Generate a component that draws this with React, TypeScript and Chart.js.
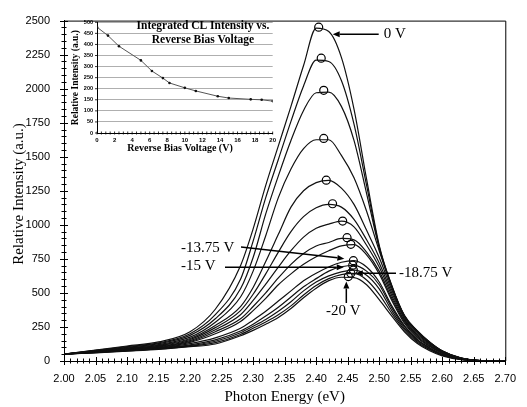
import React, { useEffect, useRef } from "react";
import { Chart, registerables } from "chart.js";

Chart.register(...registerables);

// ---------- Main chart data ----------
const energyGrid = [2.0, 2.05, 2.1, 2.15, 2.2, 2.24, 2.28, 2.3, 2.32, 2.34, 2.36, 2.38, 2.4, 2.42, 2.44, 2.46, 2.48, 2.5, 2.52, 2.54, 2.56, 2.58, 2.6, 2.63, 2.66, 2.7];

const curve01 = [50, 80, 110, 140, 215, 380, 700, 970, 1290, 1580, 1870, 2170, 2445, 2420, 2230, 1850, 1335, 850, 555, 335, 225, 140, 75, 22, 3, 0];
const curve02 = [50, 78, 105, 133, 200, 340, 600, 880, 1200, 1480, 1760, 2020, 2210, 2200, 2060, 1740, 1290, 840, 550, 332, 222, 138, 74, 22, 3, 0];
const curve03 = [50, 76, 100, 127, 188, 310, 530, 760, 1080, 1360, 1620, 1840, 1970, 1975, 1870, 1620, 1230, 830, 545, 330, 220, 137, 73, 21, 3, 0];
const curve04 = [50, 74, 96, 120, 175, 285, 470, 660, 920, 1200, 1410, 1560, 1625, 1625, 1510, 1345, 1100, 810, 540, 327, 217, 135, 72, 21, 3, 0];
const curve05 = [50, 72, 92, 115, 165, 260, 400, 540, 730, 930, 1130, 1250, 1310, 1327, 1270, 1150, 960, 760, 520, 318, 210, 130, 70, 20, 3, 0];
const curve06 = [50, 70, 90, 112, 158, 245, 370, 490, 640, 800, 950, 1060, 1125, 1150, 1130, 1040, 890, 720, 500, 308, 200, 125, 66, 19, 3, 0];
const curve07 = [50, 68, 87, 108, 150, 230, 340, 445, 565, 690, 810, 910, 975, 1005, 1027, 985, 850, 690, 480, 298, 190, 118, 62, 18, 3, 0];
const curve08 = [50, 67, 85, 104, 143, 215, 310, 400, 500, 610, 710, 790, 845, 870, 900, 890, 800, 660, 460, 288, 180, 112, 58, 17, 2, 0];
const curve09 = [50, 66, 83, 100, 137, 200, 290, 370, 460, 560, 640, 710, 765, 810, 845, 855, 780, 640, 445, 278, 172, 106, 55, 16, 2, 0];
const curve10 = [50, 65, 80, 96, 128, 170, 240, 300, 365, 440, 515, 590, 645, 690, 725, 737, 690, 580, 405, 260, 160, 98, 50, 14, 2, 0];
const curve11 = [50, 64, 78, 94, 118, 155, 220, 270, 330, 395, 470, 545, 605, 660, 692, 703, 660, 560, 390, 252, 155, 94, 48, 13, 2, 0];
const curve12 = [50, 63, 76, 91, 113, 145, 208, 255, 305, 365, 435, 515, 580, 625, 655, 667, 630, 530, 370, 240, 148, 88, 45, 12, 2, 0];
const curve13 = [50, 62, 74, 88, 109, 135, 195, 240, 287, 340, 405, 485, 555, 605, 635, 643, 595, 490, 350, 228, 140, 82, 42, 11, 2, 0];
const curve14 = [50, 60, 72, 85, 105, 125, 185, 225, 270, 320, 385, 465, 535, 590, 615, 612, 560, 450, 330, 215, 130, 75, 38, 10, 2, 0];

const curveLabels = ["0 V", "-1.25 V", "-2.5 V", "-3.75 V", "-5 V", "-6.25 V", "-7.5 V", "-8.75 V", "-10 V", "-13.75 V", "-15 V", "-16.25 V", "-18.75 V", "-20 V"];

const peakEnergy = [2.404, 2.408, 2.412, 2.412, 2.416, 2.426, 2.442, 2.449, 2.455, 2.459, 2.458, 2.459, 2.455, 2.451];
const peakIntensity = [2452, 2224, 1988, 1635, 1328, 1155, 1028, 906, 857, 737, 704, 668, 645, 620];

// ---------- Inset data ----------
const biasVoltage = [0, 1.25, 2.5, 5, 6.25, 7.5, 8.25, 10, 11.25, 13.75, 15, 17.5, 18.75, 20];
const integratedIntensity = [478, 440, 392, 328, 280, 248, 226, 204, 190, 166, 158, 152, 150, 144];

const SERIF = '"Liberation Serif", "Times New Roman", serif';
const SANS = '"Liberation Sans", Arial, sans-serif';

const curves = [curve01, curve02, curve03, curve04, curve05, curve06, curve07, curve08, curve09, curve10, curve11, curve12, curve13, curve14];

function drawArrow(ctx: CanvasRenderingContext2D, x1: number, y1: number, x2: number, y2: number, head = 7, half = 3) {
  const ang = Math.atan2(y2 - y1, x2 - x1);
  const bx = x2 - head * Math.cos(ang);
  const by = y2 - head * Math.sin(ang);
  ctx.beginPath();
  ctx.moveTo(x1, y1);
  ctx.lineTo(bx, by);
  ctx.stroke();
  ctx.beginPath();
  ctx.moveTo(x2, y2);
  ctx.lineTo(bx + half * Math.sin(ang), by - half * Math.cos(ang));
  ctx.lineTo(bx - half * Math.sin(ang), by + half * Math.cos(ang));
  ctx.closePath();
  ctx.fill();
}

const mainDecor = {
  id: "mainDecor",
  afterDraw(chart: any) {
    const { ctx, chartArea: a, scales } = chart;
    const x = scales.x;
    const y = scales.y;
    ctx.save();
    ctx.strokeStyle = "#000";
    ctx.fillStyle = "#000";
    ctx.lineWidth = 1;
    ctx.beginPath();
    ctx.moveTo(a.left, a.top + 0.5);
    ctx.lineTo(a.right + 0.5, a.top + 0.5);
    ctx.lineTo(a.right + 0.5, a.bottom);
    ctx.stroke();
    ctx.beginPath();
    for (let i = 0; i <= 70; i++) {
      const px = Math.round(x.getPixelForValue(2 + i * 0.01)) + 0.5;
      const len = i % 5 === 0 ? 4 : 2.5;
      ctx.moveTo(px, a.bottom - len);
      ctx.lineTo(px, a.bottom + len);
    }
    for (let v = 0; v <= 2500; v += 50) {
      const py = Math.round(y.getPixelForValue(v)) + 0.5;
      const len = v % 250 === 0 ? 4 : 2.5;
      ctx.moveTo(a.left - len, py);
      ctx.lineTo(a.left + len, py);
    }
    ctx.stroke();

    ctx.font = `15px ${SERIF}`;
    ctx.textAlign = "center";
    ctx.textBaseline = "middle";
    ctx.fillText("Photon Energy (eV)", (a.left + a.right) / 2, 397);
    ctx.save();
    ctx.translate(19, 194);
    ctx.rotate(-Math.PI / 2);
    ctx.fillText("Relative Intensity (a.u.)", 0, 0);
    ctx.restore();

    const pk = (i: number) => ({ cx: x.getPixelForValue(peakEnergy[i]), cy: y.getPixelForValue(peakIntensity[i]) });
    ctx.lineWidth = 1.5;
    ctx.textAlign = "left";
    ctx.font = `15px ${SERIF}`;

    const p0 = pk(0);
    drawArrow(ctx, p0.cx + 60, p0.cy + 7, p0.cx + 14, p0.cy + 7);
    ctx.fillText("0 V", p0.cx + 65, p0.cy + 7);

    const p10 = pk(9);
    drawArrow(ctx, 241, 247, p10.cx - 9, p10.cy - 2);
    ctx.fillText("-13.75 V", 181, 248);

    const p11 = pk(10);
    drawArrow(ctx, 225, p11.cy + 2, p11.cx - 9, p11.cy + 2);
    ctx.fillText("-15 V", 181, 266);

    const p13 = pk(12);
    drawArrow(ctx, 396, p13.cy, p13.cx + 5, p13.cy);
    ctx.fillText("-18.75 V", 399, p13.cy);

    const p14 = pk(13);
    drawArrow(ctx, p14.cx - 2, 303, p14.cx - 2, p14.cy + 5);
    ctx.textAlign = "center";
    ctx.fillText("-20 V", p14.cx - 5, 311);
    ctx.restore();
  },
};

const insetDecor = {
  id: "insetDecor",
  afterDraw(chart: any) {
    const { ctx, chartArea: a, scales } = chart;
    const x = scales.x;
    const y = scales.y;
    ctx.save();
    ctx.strokeStyle = "#000";
    ctx.fillStyle = "#000";
    ctx.lineWidth = 0.8;
    ctx.beginPath();
    for (let i = 0; i <= 40; i++) {
      const px = x.getPixelForValue(i * 0.5);
      ctx.moveTo(px, a.bottom - 1.5);
      ctx.lineTo(px, a.bottom + 1.5);
    }
    for (let v = 0; v <= 500; v += 50) {
      const py = y.getPixelForValue(v);
      ctx.moveTo(a.left - 2, py);
      ctx.lineTo(a.left + 1, py);
    }
    ctx.stroke();
    ctx.textAlign = "center";
    ctx.textBaseline = "middle";
    ctx.font = `bold 11.5px ${SERIF}`;
    ctx.fillText("Integrated CL Intensity vs.", 137, 11);
    ctx.fillText("Reverse Bias Voltage", 137, 25);
    ctx.font = `bold 10px ${SERIF}`;
    ctx.fillText("Reverse Bias Voltage (V)", 114, 133);
    ctx.save();
    ctx.translate(10, (a.top + a.bottom) / 2);
    ctx.rotate(-Math.PI / 2);
    ctx.font = `bold 9.5px ${SERIF}`;
    ctx.fillText("Relative Intensity (a.u.)", 0, 0);
    ctx.restore();
    ctx.restore();
  },
};

export default function App() {
  const mainRef = useRef<HTMLCanvasElement>(null);
  const insetRef = useRef<HTMLCanvasElement>(null);

  useEffect(() => {
    const lineSets: any[] = curves.map((c, k) => ({
      label: curveLabels[k],
      data: energyGrid.map((e, i) => ({ x: e, y: c[i] })),
      borderColor: "#111",
      borderWidth: 1.2,
      pointRadius: 0,
      fill: false,
      cubicInterpolationMode: "monotone",
    }));
    lineSets.push({
      label: "Peak",
      data: peakEnergy.map((e, i) => ({ x: e, y: peakIntensity[i] })),
      showLine: false,
      pointRadius: 4,
      pointStyle: "circle",
      pointBorderColor: "#000",
      pointBorderWidth: 1.2,
      pointBackgroundColor: "rgba(255,255,255,0)",
    });

    const main = new Chart(mainRef.current!, {
      type: "line",
      data: { datasets: lineSets },
      options: {
        animation: false,
        responsive: false,
        devicePixelRatio: 1,
        layout: { padding: { top: 14, right: 17, left: 0, bottom: 0 } },
        plugins: { legend: { display: false }, tooltip: { enabled: false } },
        scales: {
          x: {
            type: "linear",
            min: 2.0,
            max: 2.7,
            afterFit: (s: any) => { s.height = 46; },
            ticks: {
              stepSize: 0.05,
              autoSkip: false,
              maxRotation: 0,
              padding: 11,
              color: "#000",
              font: { family: SANS, size: 11 },
              callback: (v: any) => Number(v).toFixed(2),
            },
            grid: { display: false, drawTicks: false },
            border: { display: true, color: "#000", width: 1 },
          },
          y: {
            type: "linear",
            min: 0,
            max: 2500,
            afterFit: (s: any) => { s.width = 64; },
            ticks: {
              stepSize: 250,
              padding: 14,
              color: "#000",
              font: { family: SANS, size: 11 },
              callback: (v: any) => String(Math.round(Number(v))),
            },
            grid: { display: false, drawTicks: false },
            border: { display: true, color: "#000", width: 1 },
          },
        },
      },
      plugins: [mainDecor],
    } as any);

    const inset = new Chart(insetRef.current!, {
      type: "line",
      data: {
        datasets: [
          {
            label: "Integrated CL Intensity",
            data: biasVoltage.map((v, i) => ({ x: v, y: integratedIntensity[i] })),
            borderColor: "#555",
            borderWidth: 1,
            pointRadius: 1.3,
            pointBackgroundColor: "#111",
            pointBorderWidth: 0,
            fill: false,
          },
        ],
      },
      options: {
        animation: false,
        responsive: false,
        devicePixelRatio: 1,
        layout: { padding: { top: 6, right: 6, left: 0, bottom: 0 } },
        plugins: { legend: { display: false }, tooltip: { enabled: false } },
        scales: {
          x: {
            type: "linear",
            min: 0,
            max: 20,
            afterFit: (s: any) => { s.height = 27; },
            ticks: {
              stepSize: 2,
              autoSkip: false,
              maxRotation: 0,
              padding: 4,
              color: "#000",
              font: { family: SANS, size: 6, weight: "bold" },
            },
            grid: { display: false, drawTicks: false },
            border: { display: true, color: "#000", width: 1 },
          },
          y: {
            type: "linear",
            min: 0,
            max: 500,
            afterFit: (s: any) => { s.width = 31; },
            ticks: {
              stepSize: 50,
              padding: 4,
              color: "#000",
              font: { family: SANS, size: 5.5, weight: "bold" },
            },
            grid: { display: true, drawTicks: false, color: "#9a9a9a", lineWidth: 0.8 },
            border: { display: true, color: "#000", width: 1 },
          },
        },
      },
      plugins: [insetDecor],
    } as any);

    return () => {
      main.destroy();
      inset.destroy();
    };
  }, []);

  return (
    <div style={{ position: "absolute", left: 0, top: 0, width: 527, height: 407, background: "#fff" }}>
      <canvas ref={mainRef} width={527} height={407} style={{ position: "absolute", left: 0, top: 0, display: "block" }} />
      <canvas ref={insetRef} width={214} height={145} style={{ position: "absolute", left: 66, top: 15, display: "block" }} />
    </div>
  );
}
